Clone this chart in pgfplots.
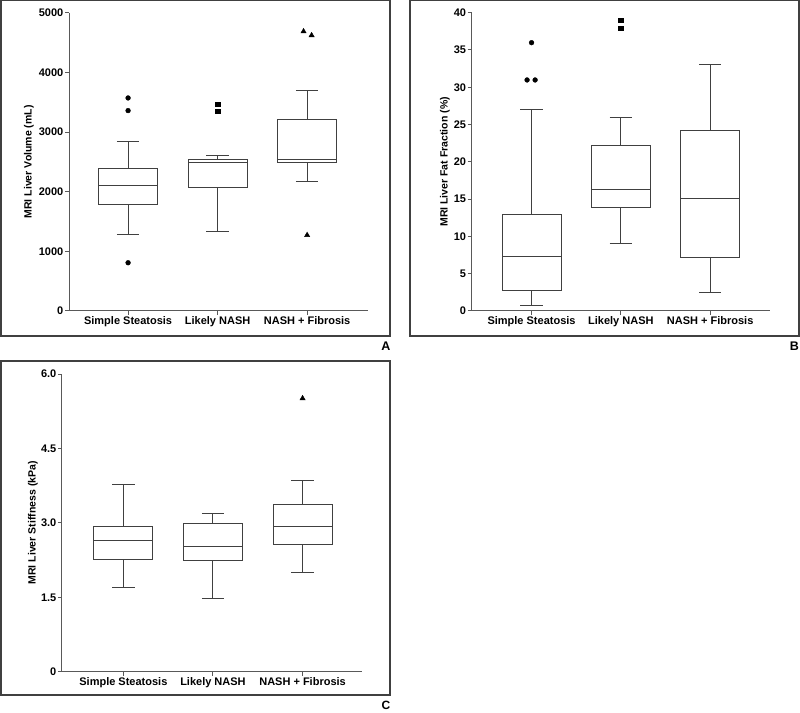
\documentclass[border=0pt]{standalone}
\usepackage{fontspec}
\setmainfont{Liberation Sans}
\usepackage{pgfplots}
\pgfplotsset{compat=1.18}
\usepgfplotslibrary{statistics}

\pgfplotsset{
  panel/.style={
    scale only axis, anchor=south west, ymin=0,
    axis lines*=left,
    xtick={0,1,2},
    xticklabels={Simple Steatosis, Likely NASH, NASH + Fibrosis},
    tick align=outside, tick pos=left, major tick length=4pt,
    axis line style={black!65, line width=1pt},
    every tick/.style={black!65, line width=1pt},
    tick label style={font=\bfseries\fontsize{11}{13}\selectfont, inner sep=1.5pt},
    ylabel style={font=\bfseries\fontsize{10.5}{12}\selectfont, anchor=center},
    boxplot/draw direction=y,
    boxplot/box extend=0.66,
    boxplot/whisker extend=0.25,
    clip=false,
  },
  bx/.style={black!75, line width=1pt},
  dot/.style={only marks, mark=*, mark size=2.4pt, black},
  sq/.style={only marks, mark=square*, mark size=2.2pt, black},
  tri/.style={only marks, mark=triangle*, mark size=3pt, black},
}

\begin{document}
\begin{tikzpicture}
\useasboundingbox (0pt,0pt) rectangle (800pt,712pt);

% panel frames
\draw[black!75, line width=1.5pt] (0.75pt,376pt) rectangle (390pt,711.25pt);
\draw[black!75, line width=1.5pt] (410pt,376pt) rectangle (799pt,711.25pt);
\draw[black!75, line width=1.5pt] (0.75pt,17pt) rectangle (390pt,351pt);
\node[font=\bfseries\fontsize{12.5}{14}\selectfont] at (386pt,365.5pt) {A};
\node[font=\bfseries\fontsize{12.5}{14}\selectfont] at (794.5pt,365.5pt) {B};
\node[font=\bfseries\fontsize{12}{14}\selectfont, inner sep=0pt, anchor=base] at (386pt,3pt) {C};

% A: liver volume
\begin{axis}[panel, at={(69pt,401pt)}, width=299pt, height=298.3pt,
  xmin=-0.66, xmax=2.68, ymax=5000,
  ytick={0,1000,2000,3000,4000,5000},
  yticklabels={0,1000,2000,3000,4000,5000},
  ylabel={MRI Liver Volume (mL)},
  ylabel style={at={(axis description cs:-0.134,0.5)}}]
  \addplot[bx, boxplot prepared={draw position=0, lower whisker=1283,
    lower quartile=1791, median=2109, upper quartile=2383, upper whisker=2846}] coordinates {};
  \addplot[bx, boxplot prepared={draw position=1, lower whisker=1339,
    lower quartile=2076, median=2483, upper quartile=2545, upper whisker=2612}] coordinates {};
  \addplot[bx, boxplot prepared={draw position=2, lower whisker=2171,
    lower quartile=2494, median=2545, upper quartile=3214, upper whisker=3700}] coordinates {};
  \addplot[dot] coordinates {(0,3571) (0,3359) (0,809)};
  \addplot[sq] coordinates {(1,3471) (1,3348)};
  \addplot[tri] coordinates {(1.96,4687) (2.05,4621) (2,1272)};
\end{axis}

% B: fat fraction
\begin{axis}[panel, at={(471.7pt,401pt)}, width=298.3pt, height=298.3pt,
  xmin=-0.67, xmax=2.67, ymax=40,
  ytick={0,5,10,15,20,25,30,35,40},
  yticklabels={0,5,10,15,20,25,30,35,40},
  ylabel={MRI Liver Fat Fraction (\%)},
  ylabel style={at={(axis description cs:-0.0895,0.5)}}]
  \addplot[bx, boxplot prepared={draw position=0, lower whisker=0.76,
    lower quartile=2.72, median=7.37, upper quartile=12.90, upper whisker=27.05}] coordinates {};
  \addplot[bx, boxplot prepared={draw position=1, lower whisker=9.02,
    lower quartile=13.88, median=16.34, upper quartile=22.14, upper whisker=25.98}] coordinates {};
  \addplot[bx, boxplot prepared={draw position=2, lower whisker=2.54,
    lower quartile=7.19, median=15.04, upper quartile=24.24, upper whisker=32.99}] coordinates {};
  \addplot[dot] coordinates {(0,35.98) (-0.05,30.98) (0.04,30.98)};
  \addplot[sq] coordinates {(1,38.97) (1,37.95)};
\end{axis}

% C: stiffness
\begin{axis}[panel, at={(62pt,40.3pt)}, width=299.7pt, height=297.7pt,
  xmin=-0.685, xmax=2.66, ymax=6,
  ytick={0,1.5,3,4.5,6},
  yticklabels={0,1.5,3.0,4.5,6.0},
  ylabel={MRI Liver Stiffness (kPa)},
  ylabel style={at={(axis description cs:-0.097,0.5)}}]
  \addplot[bx, boxplot prepared={draw position=0, lower whisker=1.70,
    lower quartile=2.26, median=2.65, upper quartile=2.93, upper whisker=3.78}] coordinates {};
  \addplot[bx, boxplot prepared={draw position=1, lower whisker=1.48,
    lower quartile=2.24, median=2.53, upper quartile=2.99, upper whisker=3.18}] coordinates {};
  \addplot[bx, boxplot prepared={draw position=2, lower whisker=2.00,
    lower quartile=2.57, median=2.92, upper quartile=3.37, upper whisker=3.86}] coordinates {};
  \addplot[tri] coordinates {(2,5.51)};
\end{axis}
\end{tikzpicture}
\end{document}
